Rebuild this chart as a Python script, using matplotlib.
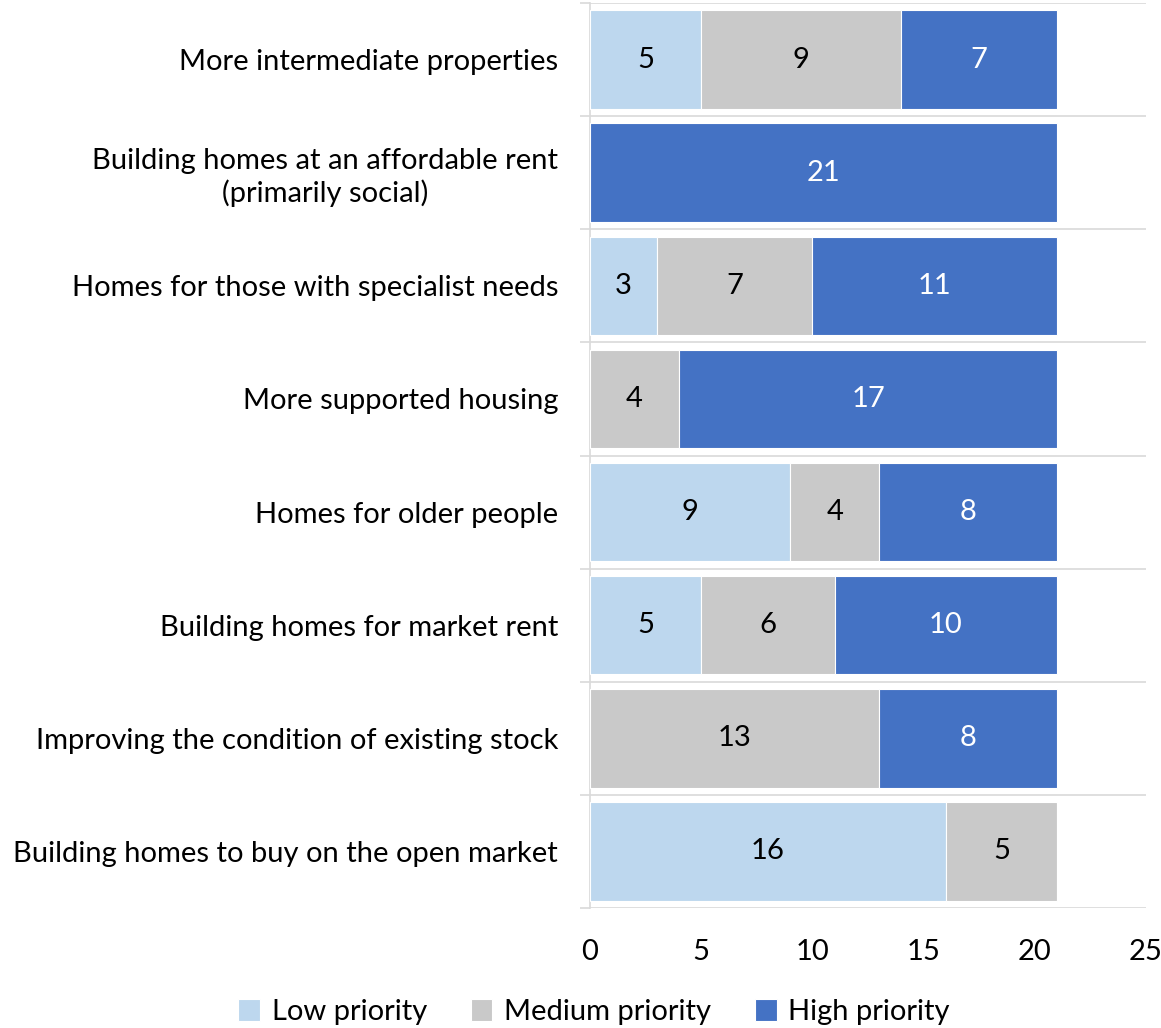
import matplotlib
matplotlib.use('Agg')
import matplotlib.pyplot as plt
import numpy as np

plt.rcParams['font.family'] = ['Lato', 'DejaVu Sans']

CATEGORIES = [
    'More intermediate properties',
    'Building homes at an affordable rent\n(primarily social)',
    'Homes for those with specialist needs',
    'More supported housing',
    'Homes for older people',
    'Building homes for market rent',
    'Improving the condition of existing stock',
    'Building homes to buy on the open market',
]
LOW = [5, 0, 3, 0, 9, 5, 0, 16]
MEDIUM = [9, 0, 7, 4, 4, 6, 13, 5]
HIGH = [7, 21, 11, 17, 8, 10, 8, 0]

SERIES = [
    ('Low priority', LOW, '#BDD7EE', 'black'),
    ('Medium priority', MEDIUM, '#C9C9C9', 'black'),
    ('High priority', HIGH, '#4472C4', 'white'),
]
FS = 21

fig = plt.figure(figsize=(11.61, 10.28), dpi=100)
ax = fig.add_axes([590 / 1161, 1 - 908 / 1028, 556 / 1161, 905 / 1028])

y = np.arange(len(CATEGORIES))
left = np.zeros(len(CATEGORIES))
for name, vals, col, tcol in SERIES:
    vals = np.array(vals, dtype=float)
    ax.barh(y, vals, left=left, height=0.87, color=col, edgecolor='white',
            linewidth=0.8, label=name, zorder=3)
    for yi, l, v in zip(y, left, vals):
        if v > 0:
            ax.text(l + v / 2, yi, f'{int(v)}', ha='center', va='center',
                    color=tcol, fontsize=FS, zorder=4)
    left += vals

ax.set_xlim(0, 25)
ax.set_ylim(len(CATEGORIES) - 0.5, -0.5)
ax.set_xticks([0, 5, 10, 15, 20, 25])
ax.tick_params(axis='x', length=0, labelsize=FS, pad=22)
ax.set_yticks(y)
ax.set_yticklabels(CATEGORIES, fontsize=FS, multialignment='center')
ax.tick_params(axis='y', which='major', length=0, pad=23)
ax.set_yticks(np.arange(-0.5, len(CATEGORIES)), minor=True)
ax.tick_params(axis='y', which='minor', length=7, color='#D9D9D9', width=1.2)
ax.grid(axis='y', which='minor', color='#D9D9D9', linewidth=1.2, zorder=1)
for s in ['top', 'right', 'bottom']:
    ax.spines[s].set_visible(False)
ax.spines['left'].set_color('#D9D9D9')
ax.spines['left'].set_linewidth(1.2)

fig.legend(loc='center', bbox_to_anchor=(594 / 1161, 1 - 1012 / 1028), ncol=3,
           frameon=False, fontsize=FS, handlelength=0.75, handleheight=0.75,
           columnspacing=1.5, handletextpad=0.4, borderpad=0)

fig.savefig('out.png', dpi=100)
